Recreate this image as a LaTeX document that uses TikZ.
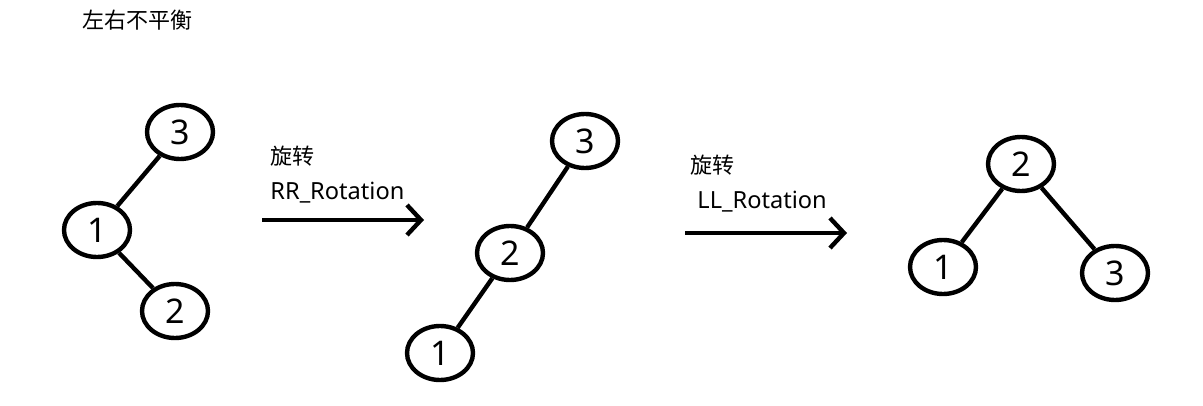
\documentclass[tikz,border=0pt]{standalone}
\usepackage{fontspec}
\setmainfont{Noto Sans}
\newfontfamily\cjk{Noto Sans CJK SC}
\usepackage{tikz}
\usetikzlibrary{positioning, shapes.geometric, arrows.meta}
\usepackage{xcolor}
\definecolor{inkblack}{HTML}{000000}

\begin{document}
\begin{tikzpicture}[x=0.5pt, y=-0.5pt,
    treenode/.style={ellipse, draw=inkblack, line width=2.2pt, minimum width=33pt, minimum height=27pt, inner sep=0pt, font=\fontsize{17}{17}\selectfont},
    treeedge/.style={draw=inkblack, line width=2.2pt},
    rotarrow/.style={draw=inkblack, line width=2.2pt, -{Straight Barb[length=7pt, width=15pt, line width=2.2pt]}},
    caption/.style={font=\cjk\fontsize{11}{13}\selectfont, anchor=west, inner sep=0pt}]
    \useasboundingbox (0,0) rectangle (1203,406);
    \node[caption] (title) at (82,20) {左右不平衡};
    % before
    \node[treenode] (a3) at (180,132) {3};
    \node[treenode] (a1) at (97,230) {1};
    \node[treenode] (a2) at (175,311) {2};
    \draw[treeedge] (a3) -- (a1);
    \draw[treeedge] (a1) -- (a2);
    \coordinate (rrs) at (262,220);
    \coordinate (rre) at (424,220);
    \draw[rotarrow] (rrs) -- (rre);
    \node[caption] (rrname) at (270,156) {旋转};
    \node[caption, font=\fontsize{11.8}{13}\selectfont] (rrlabel) at (270,193) {RR\_Rotation};
    % after RR
    \node[treenode] (b3) at (585,141) {3};
    \node[treenode] (b2) at (510,253) {2};
    \node[treenode] (b1) at (440,353) {1};
    \draw[treeedge] (b3) -- (b2);
    \draw[treeedge] (b2) -- (b1);
    \coordinate (lls) at (685,233);
    \coordinate (lle) at (847,233);
    \draw[rotarrow] (lls) -- (lle);
    \node[caption] (llname) at (690,165) {旋转};
    \node[caption, font=\fontsize{11.8}{13}\selectfont] (lllabel) at (697,202) {LL\_Rotation};
    % after LL
    \node[treenode] (c2) at (1021,164) {2};
    \node[treenode] (c1) at (943,267) {1};
    \node[treenode] (c3) at (1115,273) {3};
    \draw[treeedge] (c2) -- (c1);
    \draw[treeedge] (c2) -- (c3);
\end{tikzpicture}
\end{document}
